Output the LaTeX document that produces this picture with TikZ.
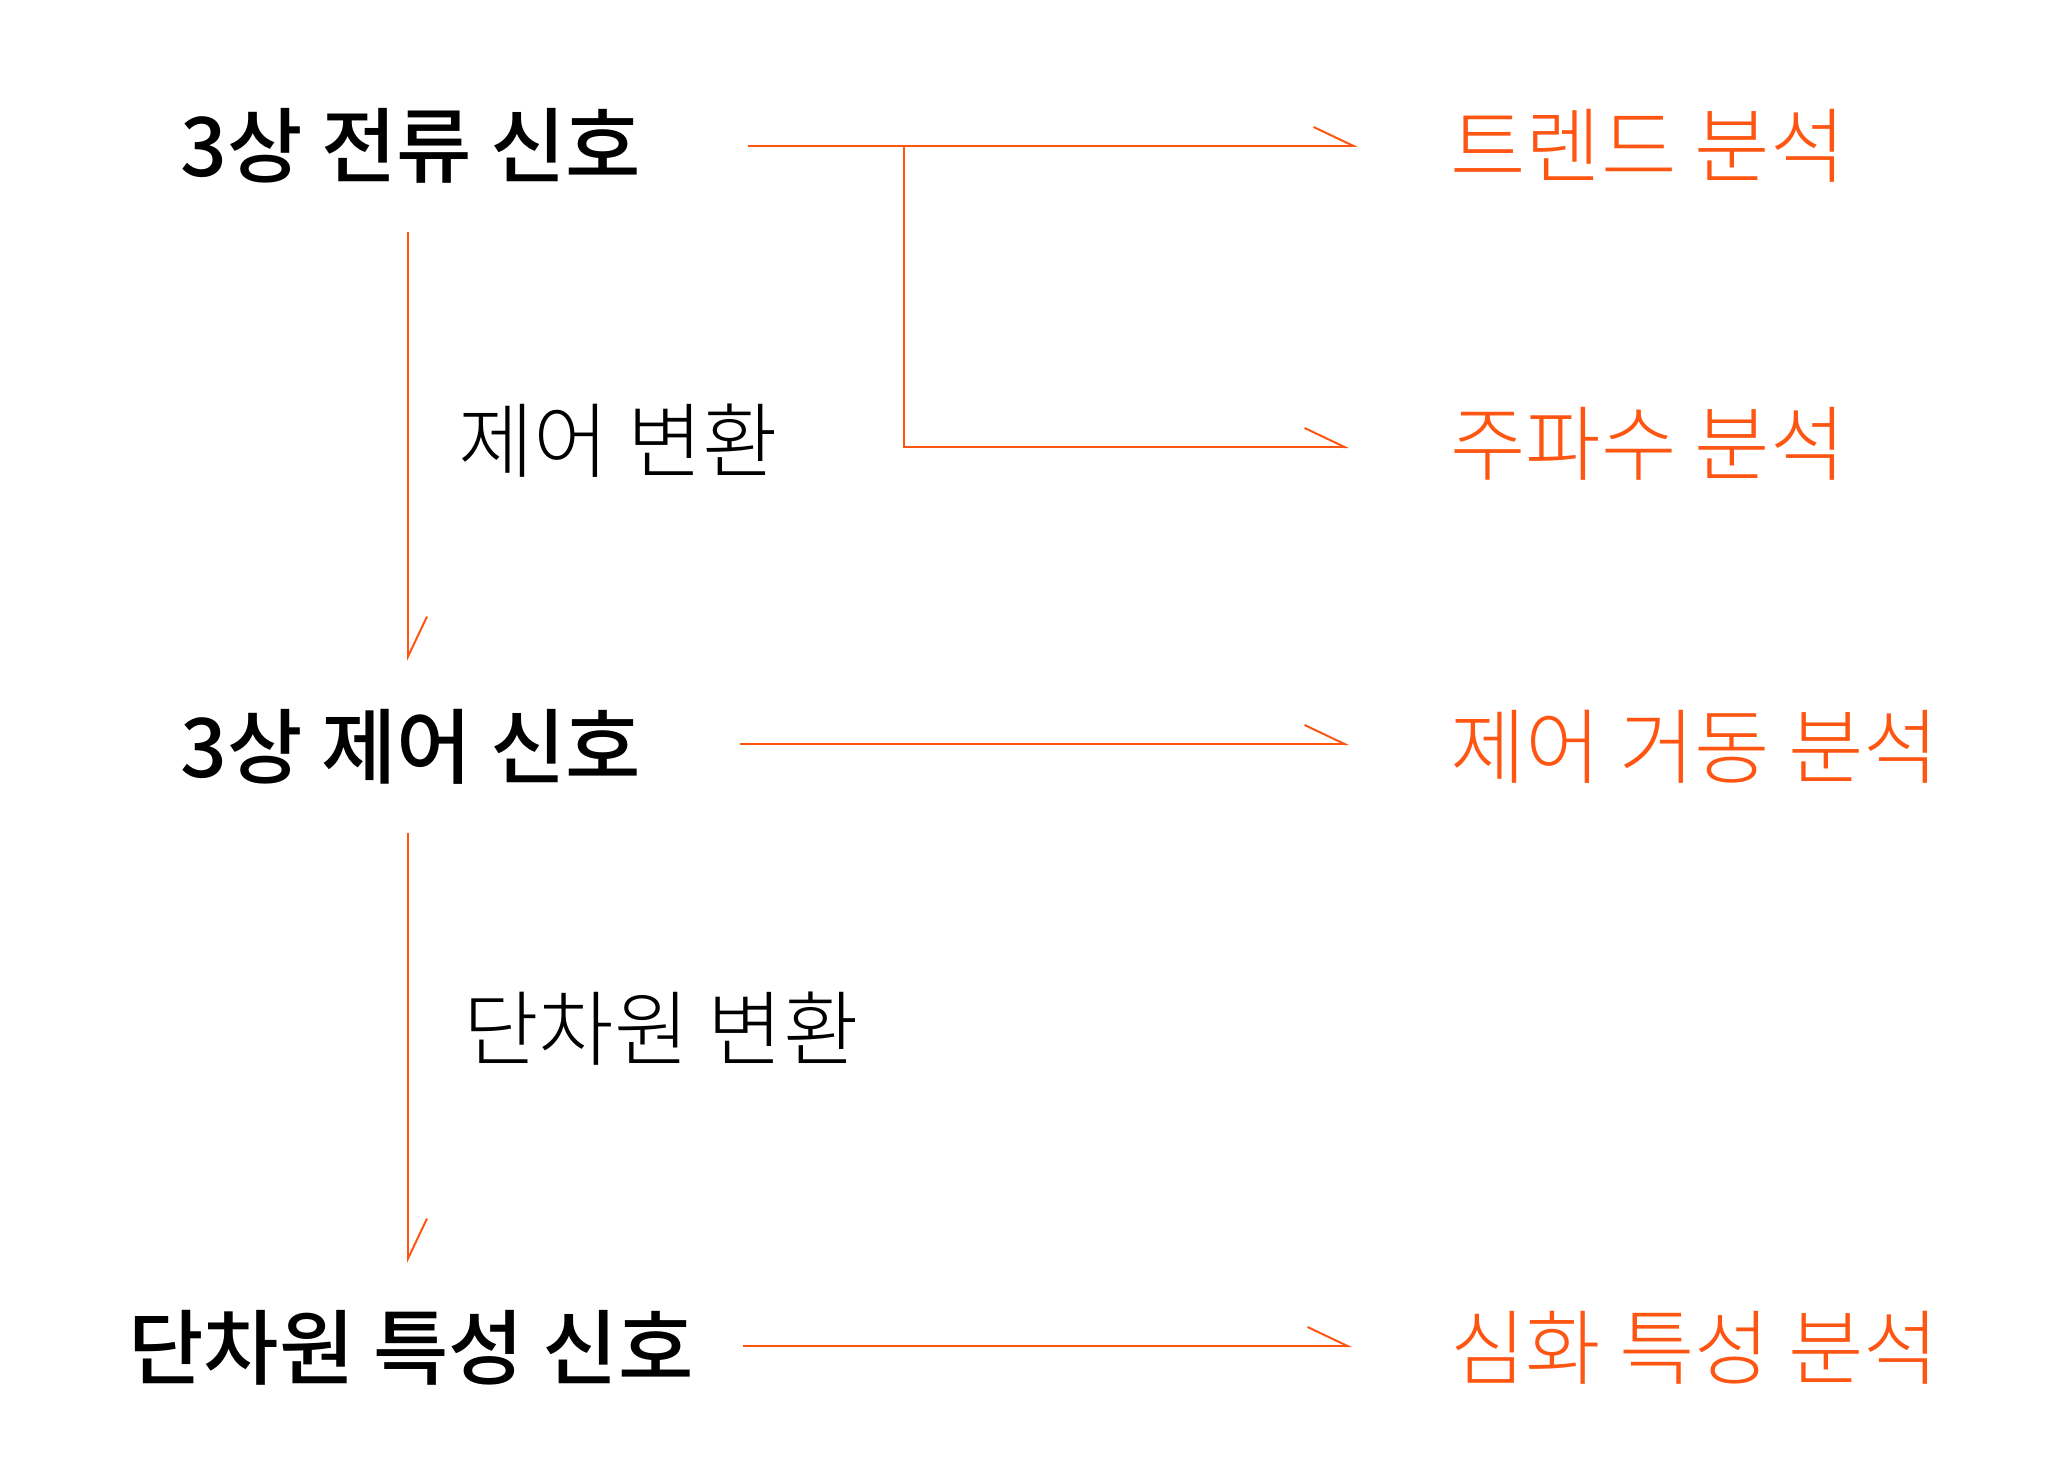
\documentclass[tikz,border=0pt]{standalone}
\usepackage{fontspec}
\setmainfont{Noto Sans CJK KR}
\newfontfamily\krmed{Noto Sans CJK KR Medium}
\newfontfamily\krlight{Noto Sans CJK KR Light}
\usetikzlibrary{arrows.meta}
\definecolor{accent}{HTML}{FF5512}
\tikzset{
  x=0.5pt, y=-0.5pt,
  mainlabel/.style={inner sep=0pt, anchor=center, font=\fontsize{41pt}{50pt}\krmed\selectfont, text=black},
  sidelabel/.style={inner sep=0pt, anchor=west, font=\fontsize{41pt}{50pt}\krlight\selectfont, text=black},
  result/.style={inner sep=0pt, anchor=west, font=\fontsize{41pt}{50pt}\krlight\selectfont, text=accent},
  link/.style={draw=accent, line width=1pt, -{Straight Barb[left, length=20pt, width=19pt, line width=1pt]}},
}
\begin{document}
\begin{tikzpicture}
\useasboundingbox (0,0) rectangle (2048,1482);
% main nodes
\node[mainlabel] (m1) at (411,146) {3상 전류 신호};
\node[mainlabel] (m2) at (411,747) {3상 제어 신호};
\node[mainlabel] (m3) at (411,1348) {단차원 특성 신호};
% transformation labels
\node[sidelabel] (l1) at (458,441) {제어 변환};
\node[sidelabel] (l2) at (463,1029) {단차원 변환};
% results
\node[result] (r1) at (1450,146) {트렌드 분석};
\node[result] (r2) at (1450,444) {주파수 분석};
\node[result] (r3) at (1450,747) {제어 거동 분석};
\node[result] (r4) at (1450,1348) {심화 특성 분석};
% connector endpoints
\coordinate (s1) at (748,146);
\coordinate (e1) at (1358,146);
\coordinate (b1) at (904,146);
\coordinate (e2) at (1349,447);
\coordinate (s3) at (740,744);
\coordinate (e3) at (1349,744);
\coordinate (s4) at (743,1346);
\coordinate (e4) at (1352,1346);
\coordinate (v1s) at (408,232);
\coordinate (v1e) at (408,661);
\coordinate (v2s) at (408,833);
\coordinate (v2e) at (408,1263);
% connectors
\draw[link] (s1) -- (e1);
\draw[link] (b1) |- (e2);
\draw[link] (s3) -- (e3);
\draw[link] (s4) -- (e4);
\draw[link] (v1s) -- (v1e);
\draw[link] (v2s) -- (v2e);
\end{tikzpicture}
\end{document}
